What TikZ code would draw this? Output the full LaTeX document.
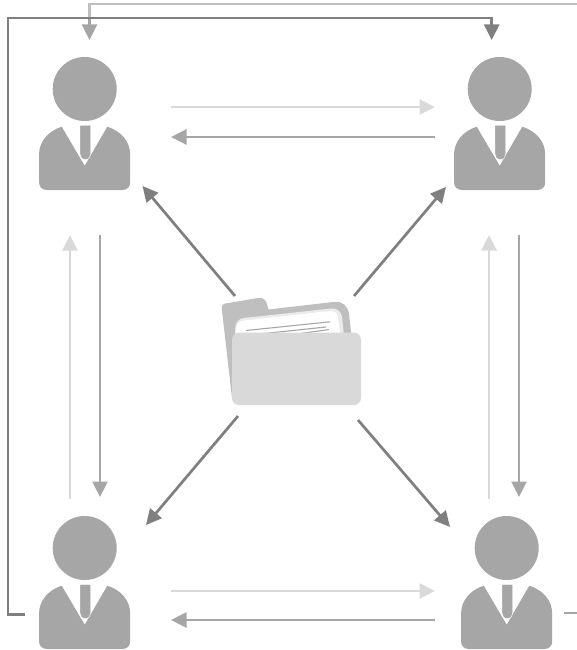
\documentclass[tikz,border=0pt]{standalone}
\usetikzlibrary{arrows.meta}
\definecolor{cDark}{HTML}{7F7F7F}
\definecolor{cMid}{HTML}{A6A6A6}
\definecolor{cLight}{HTML}{D9D9D9}
\definecolor{cTop}{HTML}{BFBFBF}
\tikzset{
  conn/.style={line width=2.7pt,-{Triangle[length=15.5pt,width=15pt]}},
  plainconn/.style={line width=2.7pt},
  person/.pic={
    \fill[cMid] (0,0) circle (32);
    \fill[cMid] (-23,37.7) -- (0,76.7) -- (22.6,37.7)
      .. controls (36,42) and (45.5,52) .. (45.5,66) -- (45.5,93)
      .. controls (45.5,98) and (42.5,101) .. (37.5,101) -- (-37.5,101)
      .. controls (-42.5,101) and (-45.7,98) .. (-45.7,93) -- (-45.7,66)
      .. controls (-45.7,52) and (-36,42) .. cycle;
    \filldraw[cMid,draw=white,line width=0.4pt] (-4.7,36.3) -- (6,36.3) -- (6,65)
      .. controls (6,68) and (4,70.5) .. (0.6,70.5)
      .. controls (-2.8,70.5) and (-4.7,68) .. (-4.7,65) -- cycle;
  }
}
\begin{document}
\begin{tikzpicture}[x=1pt,y=-1pt]
\useasboundingbox (0,0) rectangle (577,650);
% people
\pic at (84.7,89) {person};
\pic at (499.7,89) {person};
\pic at (84.7,548) {person};
\pic at (506.7,548) {person};
% connector ends
\coordinate (abS) at (171,107); \coordinate (abE) at (435,107);
\coordinate (baS) at (435,137); \coordinate (baE) at (171,137);
\coordinate (cdS) at (171,591); \coordinate (cdE) at (435,591);
\coordinate (dcS) at (435,620); \coordinate (dcE) at (171,620);
\coordinate (caS) at (70,499);  \coordinate (caE) at (70,235);
\coordinate (acS) at (100,235); \coordinate (acE) at (100,497);
\coordinate (dbS) at (489,499); \coordinate (dbE) at (489,235);
\coordinate (bdS) at (519,235); \coordinate (bdE) at (519,497);
\coordinate (faS) at (235,296); \coordinate (faE) at (142.5,186);
\coordinate (fbS) at (354,296); \coordinate (fbE) at (446,187);
\coordinate (fcS) at (238,416); \coordinate (fcE) at (146,525);
\coordinate (fdS) at (358,420); \coordinate (fdE) at (450,527);
\coordinate (topS) at (577,4);  \coordinate (topC) at (89.5,4); \coordinate (topE) at (89.5,40);
\coordinate (lpS) at (25,614.5); \coordinate (lpA) at (8,614.5); \coordinate (lpB) at (8,18);
\coordinate (lpC) at (491.7,18); \coordinate (lpE) at (491.7,40);
\coordinate (stubS) at (564,613); \coordinate (stubE) at (577,613);
% horizontal and vertical
\foreach \s in {ab,cd,ca,db} \draw[conn,cLight] (\s S) -- (\s E);
\foreach \s in {ba,dc,ac,bd} \draw[conn,cMid] (\s S) -- (\s E);
% diagonals
\foreach \s in {fa,fb,fc,fd} \draw[conn,cDark] (\s S) -- (\s E);
% long runs
\draw[plainconn,cTop] (topS) -- (topC) -- (89.5,18);
\draw[conn,cMid] (89.5,18) -- (topE);
\draw[conn,cDark] (lpS) -- (lpA) -- (lpB) -- (lpC) -- (lpE);
\draw[plainconn,cMid] (stubS) -- (stubE);
% folder
\fill[cTop] (221.7,308)
  .. controls (221.3,305.5) and (223,304) .. (225,303.5)
  -- (258,298) .. controls (263,297.3) and (266,300) .. (267,304)
  -- (268.5,309.5) -- (335,301.8)
  .. controls (342,301) and (348,306) .. (349,314)
  -- (352,340) -- (236,404) -- (232,398) -- cycle;
\fill[black!8] (235,330) -- (235.5,326)
  .. controls (236,322) and (239,318.5) .. (244,318)
  -- (331,308.5) .. controls (337,308) and (341,311) .. (342,317)
  -- (344.5,340) -- (235,340) -- cycle;
\fill[white] (236,340) -- (236.5,327)
  .. controls (237,323) and (240,321) .. (244,320.5)
  -- (330,311) .. controls (334,310.5) and (337,313) .. (338,317)
  -- (341,340) -- cycle;
\draw[cMid,line width=1.1pt] (246,330.5) -- (330,321.8);
\draw[cMid,line width=1.1pt] (250,335) -- (326,327);
\draw[cMid,line width=1.1pt] (262,339) -- (329,329.5);
\fill[cLight,rounded corners=7pt] (232,332.7) rectangle (361,405);
\end{tikzpicture}
\end{document}
